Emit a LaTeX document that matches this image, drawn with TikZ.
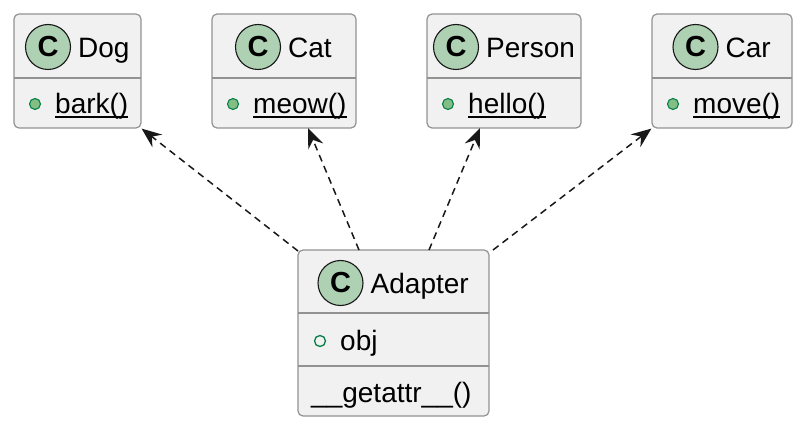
\documentclass[tikz,border=0pt]{standalone}
\usepackage{fontspec}
\setmainfont{Liberation Sans}
\usetikzlibrary{arrows.meta}
\definecolor{boxfill}{HTML}{F1F1F1}
\definecolor{boxline}{HTML}{929292}
\definecolor{circfill}{HTML}{ADD1B2}
\definecolor{dotfill}{HTML}{84BE84}
\definecolor{dotline}{HTML}{038048}
\definecolor{ink}{HTML}{181818}
\newcommand\myul[1]{\setbox0\hbox{#1}\rlap{\rule[-3.6pt]{\wd0}{1.3pt}}\box0}
\tikzset{
  classbox/.style={draw=boxline, fill=boxfill, line width=1.2pt, rounded corners=5pt, inner sep=0pt},
  sepline/.style={draw=boxline, line width=1.2pt},
  cicon/.style={circle, draw=ink, fill=circfill, line width=1.1pt, minimum size=45pt, inner sep=0pt,
    font=\fontsize{29}{29}\selectfont\bfseries},
  lbl/.style={inner sep=0pt, anchor=base west, font=\fontsize{28}{34}\selectfont, text=black},
  pubdot/.style={circle, draw=dotline, fill=dotfill, line width=1.1pt, minimum size=11pt, inner sep=0pt},
  fielddot/.style={circle, draw=dotline, fill=none, line width=1.3pt, minimum size=11pt, inner sep=0pt},
  dep/.style={draw=ink, line width=1.5pt, dash pattern=on 7pt off 5pt,
    -{Stealth[length=20pt,width=16pt,inset=7pt]}},
}
\begin{document}
\begin{tikzpicture}[x=1pt,y=-1pt]
\useasboundingbox (0,0) rectangle (806,430);
% Dog
\node[classbox, minimum width=127pt, minimum height=114pt] (dog) at (77.5,71) {};
\draw[sepline] (14,78) -- (141,78);
\node[cicon] (dogc) at (48,47) {C};
\node[lbl] (dogt) at (78,58) {Dog};
\node[pubdot] (dogd) at (35,104) {};
\node[lbl] (dogm) at (55,114) {\myul{bark()}};
% Cat
\node[classbox, minimum width=144pt, minimum height=114pt] (cat) at (284,71) {};
\draw[sepline] (212,78) -- (356,78);
\node[cicon] (catc) at (258,47) {C};
\node[lbl] (catt) at (288,58) {Cat};
\node[pubdot] (catd) at (233,104) {};
\node[lbl] (catm) at (253,114) {\myul{meow()}};
% Person
\node[classbox, minimum width=154pt, minimum height=114pt] (person) at (504,71) {};
\draw[sepline] (427,78) -- (581,78);
\node[cicon] (personc) at (456,47) {C};
\node[lbl] (persont) at (486,58) {Person};
\node[pubdot] (persond) at (448,104) {};
\node[lbl] (personm) at (468,114) {\myul{hello()}};
% Car
\node[classbox, minimum width=140pt, minimum height=114pt] (car) at (722,71) {};
\draw[sepline] (652,78) -- (792,78);
\node[cicon] (carc) at (695.5,47) {C};
\node[lbl] (cart) at (725.5,58) {Car};
\node[pubdot] (card) at (673,104) {};
\node[lbl] (carm) at (693,114) {\myul{move()}};
% Adapter
\node[classbox, minimum width=191pt, minimum height=166pt] (adapter) at (393.5,333) {};
\draw[sepline] (298,313) -- (489,313);
\draw[sepline] (298,366) -- (489,366);
\node[cicon] (adc) at (340.5,283) {C};
\node[lbl] (adt) at (370.5,294) {Adapter};
\node[fielddot] (add) at (320,341) {};
\node[lbl] (adf) at (340,351) {obj};
\node[lbl] (adm) at (311,402) {\_\_getattr\_\_()};
% connectors
\coordinate (s1) at (298,251);
\coordinate (s2) at (359,250);
\coordinate (s3) at (429,250);
\coordinate (s4) at (493,250);
\coordinate (e2) at (308,128);
\coordinate (e3) at (480,128);
\draw[dep] (s1) -- (dog.south east);
\draw[dep] (s2) -- (e2);
\draw[dep] (s3) -- (e3);
\draw[dep] (s4) -- (car.south west);
\end{tikzpicture}
\end{document}
